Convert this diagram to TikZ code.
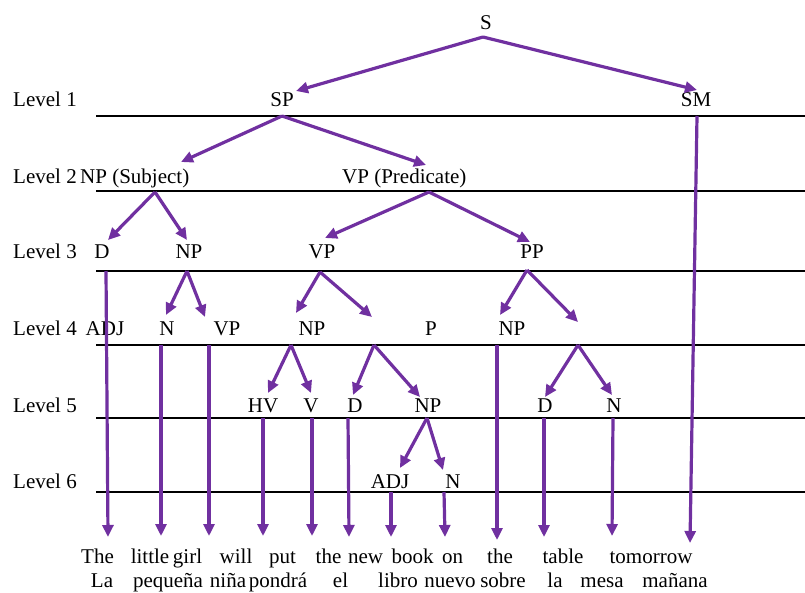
\documentclass[tikz,border=0pt]{standalone}
\usepackage{fontspec}
\setmainfont{Liberation Serif}
\usetikzlibrary{arrows.meta}
\definecolor{treepurple}{RGB}{112,48,160}
\begin{document}
\begin{tikzpicture}[x=1pt,y=-1pt,
  txt/.style={inner sep=0pt,anchor=base,font=\fontsize{21}{25}\selectfont},
  lvl/.style={inner sep=0pt,anchor=base west,font=\fontsize{21}{25}\selectfont},
  rule/.style={line width=2.8pt,black},
  branch/.style={line width=3.2pt,treepurple,-{Triangle[length=12pt,width=11pt]}}]
\useasboundingbox (0,0) rectangle (805,592);
% level rules
\foreach \y/\n in {116/1,191/2,271/3,345/4,418/5,492/6}{
  \coordinate (rl\n) at (96,\y);
  \coordinate (rr\n) at (805,\y);
  \draw[rule] (rl\n) -- (rr\n);
}
% level labels
\node[lvl] (L1) at (13,106) {Level 1};
\node[lvl] (L2) at (13,183) {Level 2};
\node[lvl] (L3) at (13,258) {Level 3};
\node[lvl] (L4) at (13,335) {Level 4};
\node[lvl] (L5) at (13,412) {Level 5};
\node[lvl] (L6) at (13,488) {Level 6};
% tree labels
\node[txt] (S) at (486,29) {S};
\node[txt] (SP) at (282,106) {SP};
\node[txt] (SM) at (696,106) {SM};
\node[lvl] (NPsubj) at (80,183) {NP (Subject)};
\node[lvl] (VPpred) at (342,183) {VP (Predicate)};
\node[txt] (D3) at (102,258) {D};
\node[txt] (NP3) at (189,258) {NP};
\node[txt] (VP3) at (322,258) {VP};
\node[txt] (PP3) at (532,258) {PP};
\node[txt] (ADJ4) at (105,335) {ADJ};
\node[txt] (N4) at (167,335) {N};
\node[txt] (VP4) at (227,335) {VP};
\node[txt] (NP4a) at (312,335) {NP};
\node[txt] (P4) at (431,335) {P};
\node[txt] (NP4b) at (512,335) {NP};
\node[txt] (HV5) at (263,412) {HV};
\node[txt] (V5) at (311,412) {V};
\node[txt] (D5a) at (355,412) {D};
\node[txt] (NP5) at (428,412) {NP};
\node[txt] (D5b) at (545,412) {D};
\node[txt] (N5) at (614,412) {N};
\node[txt] (ADJ6) at (390,488) {ADJ};
\node[txt] (N6) at (453,488) {N};
% English words
\node[txt] (wThe) at (97.5,563) {The};
\node[txt] (wlittle) at (150,563) {little};
\node[txt] (wgirl) at (187.5,563) {girl};
\node[txt] (wwill) at (236,563) {will};
\node[txt] (wput) at (282.5,563) {put};
\node[txt] (wthe) at (328.5,563) {the};
\node[txt] (wnew) at (365.5,563) {new};
\node[txt] (wbook) at (412.5,563) {book};
\node[txt] (won) at (452.5,563) {on};
\node[txt] (wthe2) at (500,563) {the};
\node[txt] (wtable) at (563,563) {table};
\node[txt] (wtomorrow) at (651,563) {tomorrow};
% Spanish words
\node[txt] (sLa) at (102,587) {La};
\node[txt] (spequena) at (168,587) {pequeña};
\node[txt] (snina) at (228,587) {niña};
\node[txt] (spondra) at (278,587) {pondrá};
\node[txt] (sel) at (340.5,587) {el};
\node[txt] (slibro) at (398,587) {libro};
\node[txt] (snuevo) at (450,587) {nuevo};
\node[txt] (ssobre) at (503,587) {sobre};
\node[txt] (sla) at (555,587) {la};
\node[txt] (smesa) at (602,587) {mesa};
\node[txt] (smanana) at (675,587) {mañana};
% connector end points
\coordinate (Sb) at (483,37);
\coordinate (SPt) at (296,91);
\coordinate (SMt) at (697,90);
\coordinate (SPb) at (282,116);
\coordinate (NPst) at (181,162);
\coordinate (VPpt) at (426,165);
\coordinate (NPsb) at (155,192);
\coordinate (D3t) at (108,240);
\coordinate (NP3t) at (187,240);
\coordinate (VPpb) at (429,192);
\coordinate (VP3t) at (325,238);
\coordinate (PP3t) at (530,242);
\coordinate (D3b) at (106,271);
\coordinate (D3e) at (108,537);
\coordinate (NP3b) at (187,271);
\coordinate (N4t) at (166,315);
\coordinate (VP4t) at (205,317);
\coordinate (VP3b) at (320,272);
\coordinate (NP4at) at (296,313);
\coordinate (blankAt) at (372,317);
\coordinate (PP3b) at (527,270);
\coordinate (NP4bt) at (500,315);
\coordinate (blankBt) at (578,322);
\coordinate (N4b) at (161,345);
\coordinate (N4e) at (161,536);
\coordinate (VP4b) at (209,345);
\coordinate (VP4e) at (209,536);
\coordinate (NP4ab) at (291,345);
\coordinate (HV5t) at (268,393);
\coordinate (V5t) at (311,393);
\coordinate (blankAb) at (374,345);
\coordinate (D5at) at (353,395);
\coordinate (NP5t) at (420,397);
\coordinate (NP4bb) at (497,345);
\coordinate (NP4be) at (497,540);
\coordinate (blankBb) at (578,345);
\coordinate (D5bt) at (545,397);
\coordinate (N5t) at (612,395);
\coordinate (HV5b) at (263,418);
\coordinate (HV5e) at (263,536);
\coordinate (V5b) at (312,418);
\coordinate (V5e) at (312,536);
\coordinate (D5ab) at (348,418);
\coordinate (D5ae) at (349,537);
\coordinate (NP5b) at (427,418);
\coordinate (ADJ6t) at (400,468);
\coordinate (N6t) at (443,470);
\coordinate (D5bb) at (544,418);
\coordinate (D5be) at (544,537);
\coordinate (N5b) at (613,418);
\coordinate (N5e) at (612,536);
\coordinate (ADJ6b) at (391,492);
\coordinate (ADJ6e) at (391,537);
\coordinate (N6b) at (444,492);
\coordinate (N6e) at (445,537);
\coordinate (SMb) at (697,116);
\coordinate (SMe) at (690,543);
% connectors
\draw[branch] (Sb) -- (SPt);
\draw[branch] (Sb) -- (SMt);
\draw[branch] (SPb) -- (NPst);
\draw[branch] (SPb) -- (VPpt);
\draw[branch] (NPsb) -- (D3t);
\draw[branch] (NPsb) -- (NP3t);
\draw[branch] (VPpb) -- (VP3t);
\draw[branch] (VPpb) -- (PP3t);
\draw[branch] (D3b) -- (D3e);
\draw[branch] (NP3b) -- (N4t);
\draw[branch] (NP3b) -- (VP4t);
\draw[branch] (VP3b) -- (NP4at);
\draw[branch] (VP3b) -- (blankAt);
\draw[branch] (PP3b) -- (NP4bt);
\draw[branch] (PP3b) -- (blankBt);
\draw[branch] (N4b) -- (N4e);
\draw[branch] (VP4b) -- (VP4e);
\draw[branch] (NP4ab) -- (HV5t);
\draw[branch] (NP4ab) -- (V5t);
\draw[branch] (blankAb) -- (D5at);
\draw[branch] (blankAb) -- (NP5t);
\draw[branch] (NP4bb) -- (NP4be);
\draw[branch] (blankBb) -- (D5bt);
\draw[branch] (blankBb) -- (N5t);
\draw[branch] (HV5b) -- (HV5e);
\draw[branch] (V5b) -- (V5e);
\draw[branch] (D5ab) -- (D5ae);
\draw[branch] (NP5b) -- (ADJ6t);
\draw[branch] (NP5b) -- (N6t);
\draw[branch] (D5bb) -- (D5be);
\draw[branch] (N5b) -- (N5e);
\draw[branch] (ADJ6b) -- (ADJ6e);
\draw[branch] (N6b) -- (N6e);
\draw[branch] (SMb) -- (SMe);
\end{tikzpicture}
\end{document}
